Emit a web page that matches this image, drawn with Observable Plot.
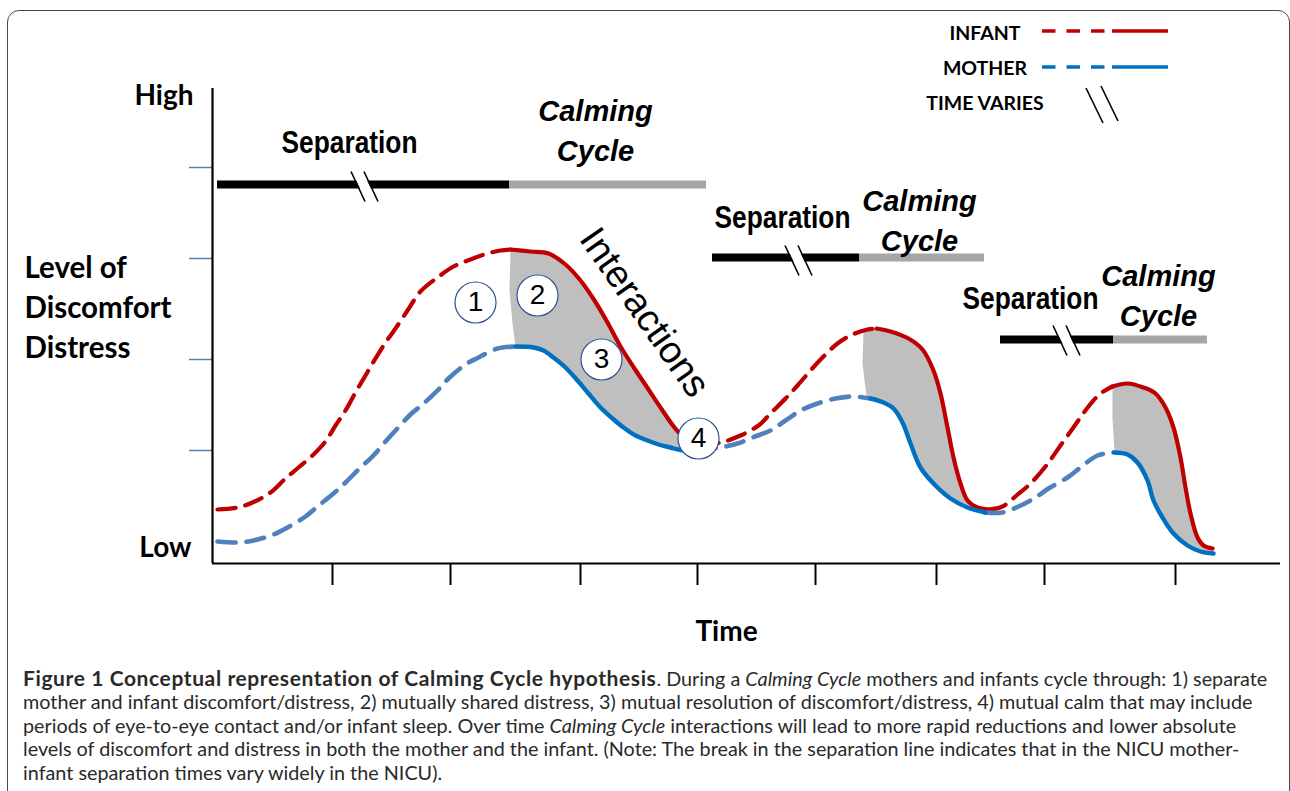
<!DOCTYPE html>
<html><head><meta charset="utf-8">
<script src="https://cdn.jsdelivr.net/npm/d3@7"></script>
<script src="https://cdn.jsdelivr.net/npm/@observablehq/plot@0.6"></script>
<style>
html,body{margin:0;padding:0;background:#fff;}
body{width:1290px;height:791px;overflow:hidden;position:relative;}
#frame{position:absolute;left:7px;top:10px;width:1283px;height:900px;border:1.6px solid #4a4a4a;border-radius:12px;box-sizing:border-box;}
#chart{position:absolute;left:0;top:0;}
#legend{position:absolute;left:0;top:0;}
#caption{position:absolute;left:23px;top:666px;font-family:Lato,sans-serif;font-size:19.8px;line-height:23.4px;color:#2a2a2a;white-space:nowrap;}
#caption b{font-size:21px;letter-spacing:0.6px;}
</style></head><body>
<div id="frame"></div>
<div id="chart"></div>
<svg id="legend" width="1290" height="140"></svg>
<div id="caption">
<div><b>Figure 1 Conceptual representation of Calming Cycle hypothesis</b>. During a <i>Calming Cycle</i> mothers and infants cycle through: 1) separate</div>
<div>mother and infant discomfort/distress, 2) mutually shared distress, 3) mutual resolution of discomfort/distress, 4) mutual calm that may include</div>
<div>periods of eye-to-eye contact and/or infant sleep. Over time <i>Calming Cycle</i> interactions will lead to more rapid reductions and lower absolute</div>
<div>levels of discomfort and distress in both the mother and the infant. (Note: The break in the separation line indicates that in the NICU mother-</div>
<div>infant separation times vary widely in the NICU).</div>
</div>
<script>
// ---- data: [time, level] ----
const infantRise = [
  [[5,54],[25,56],[40,61],[58,71],[73,85],[86,96],[100,108],[113,122],[123,138],[133,153],[143,171],[153,188],[163,205],[173,221],[183,235],[195,253],[208,272],[225,286],[241,297],[258,304],[275,310],[288,313],[298,314]],
  [[488,119],[508,121],[528,128],[546,138],[558,150],[573,165],[585,178],[598,193],[610,206],[625,220],[640,229],[655,234],[664,235]],
  [[776,54],[790,57],[804,68],[818,80],[833,97],[848,118],[863,139],[876,157],[888,170],[900,177]]
];
const infantCalm = [
  [[298,314],[318,312],[336,310],[353,299],[368,283],[382,263],[395,241],[408,217],[422,195],[436,174],[450,153],[462,136],[472,126],[488,119]],
  [[664,235],[678,232],[696,225],[710,214],[721,193],[728,170],[735,136],[741,106],[748,80],[755,63],[765,56],[776,54]],
  [[900,177],[915,180],[931,176],[943,170],[953,156],[961,136],[968,106],[973,76],[978,50],[985,26],[991,18],[1000,15]]
];
const motherRise = [
  [[5,22],[25,21],[41,23],[61,29],[75,36],[93,47],[105,57],[121,70],[133,81],[148,96],[160,107],[173,122],[183,133],[198,149],[210,159],[226,174],[236,185],[253,199],[266,206],[285,215],[303,217]],
  [[485,113],[508,116],[525,120],[540,126],[558,133],[573,143],[588,153],[605,160],[623,165],[641,167],[658,165]],
  [[773,51],[790,51],[806,57],[823,66],[836,75],[855,86],[868,96],[885,108],[901,111]]
];
const motherCalm = [
  [[303,217],[321,216],[331,213],[341,206],[353,196],[365,183],[376,170],[388,156],[400,145],[411,136],[423,128],[435,123],[446,119],[458,116],[471,113],[485,113]],
  [[658,165],[671,161],[681,155],[690,141],[698,120],[708,96],[721,80],[738,65],[755,56],[773,51]],
  [[901,111],[915,109],[925,101],[935,83],[941,63],[950,46],[961,30],[975,18],[988,12],[1001,10]]
];
// left edge of each shaded (shared distress) area, bottom to top
const sharedEdge = [
  [[300,240],[297,273]],
  [[654,167],[650,200],[651,232]],
  [[902,112],[900,145],[900,176]]
];
const xTicks = [120, 238, 368, 485, 603, 724, 832, 963];
const yTicks = [113, 204, 305, 396];
const separationBars = [[5,297,379],[500,647,306],[788,901,224]];   // [start, end, level]
const calmingBars = [[297,494,379],[647,772,306],[901,995,224]];
const breaks = [[152,377],[586,303],[854,223]];
const separationLabels = [[137,421],[570,346],[818,265]];
const calmingLabels = [[383,435],[707,345],[946,270]];
const stages = [["1",263,261],["2",325,268],["3",389,204],["4",486,125]];
const interactionsLabel = [["Interactions",432,251]];
const legendItems = ["INFANT","MOTHER","TIME VARIES"];

// ---- build tables ----
const rows = segs => segs.flatMap((pts, i) => pts.map(([t, level]) => ({seg: i, t, level})));
const fillRows = infantCalm.flatMap((pts, i) =>
  pts.concat(motherCalm[i].slice().reverse(), sharedEdge[i]).map(([t, level]) => ({seg: i, t, level})));

const RED = "#c00000", BLUE = "#0070c0", BLUE_D = "#4f81bd";
const CURVE = "catmull-rom";

const chart = Plot.plot({
  width: 1290, height: 650,
  marginLeft: 212, marginRight: 10, marginTop: 88, marginBottom: 87,
  x: {domain: [0, 1068]},
  y: {domain: [0, 475]},
  style: {fontFamily: "Lato, sans-serif", background: "transparent", overflow: "visible"},
  marks: [
    Plot.line(fillRows, {x: "t", y: "level", z: "seg", fill: "#bfbfbf", stroke: null}),
    Plot.axisX({ticks: xTicks, tickSize: 22, tickFormat: () => "", strokeWidth: 2, stroke: "black", label: null}),
    Plot.axisY({ticks: yTicks, tickSize: 23, tickFormat: () => "", strokeWidth: 1.5, stroke: BLUE_D, label: null}),
    Plot.ruleY([0], {x1: 0, x2: 1068, stroke: "black", strokeWidth: 2.2}),
    Plot.ruleX([0], {y1: 0, y2: 475, stroke: "black", strokeWidth: 2.2}),
    Plot.line(rows(infantRise), {x: "t", y: "level", z: "seg", stroke: RED, strokeWidth: 4.2, strokeDasharray: "18,10", curve: CURVE}),
    Plot.line(rows(infantCalm), {x: "t", y: "level", z: "seg", stroke: RED, strokeWidth: 4.2, curve: CURVE}),
    Plot.line(rows(motherRise), {x: "t", y: "level", z: "seg", stroke: BLUE_D, strokeWidth: 4.6, strokeDasharray: "18,11", curve: CURVE}),
    Plot.line(rows(motherCalm), {x: "t", y: "level", z: "seg", stroke: BLUE, strokeWidth: 4.4, curve: CURVE}),
    Plot.ruleY(separationBars, {y: d => d[2], x1: d => d[0], x2: d => d[1], stroke: "black", strokeWidth: 8}),
    Plot.ruleY(calmingBars, {y: d => d[2], x1: d => d[0], x2: d => d[1], stroke: "#a6a6a6", strokeWidth: 8}),
    Plot.link(breaks, {x1: d => d[0] - 7, y1: d => d[1] + 15, x2: d => d[0] + 7, y2: d => d[1] - 15, stroke: "white", strokeWidth: 10}),
    Plot.link(breaks, {x1: d => d[0] - 13.5, y1: d => d[1] + 15, x2: d => d[0] + 0.5, y2: d => d[1] - 15, stroke: "black", strokeWidth: 1.6}),
    Plot.link(breaks, {x1: d => d[0] - 0.5, y1: d => d[1] + 15, x2: d => d[0] + 13.5, y2: d => d[1] - 15, stroke: "black", strokeWidth: 1.6}),
    Plot.text(separationLabels, {x: d => d[0], y: d => d[1], text: () => "Separation", fontFamily: "'Liberation Sans Narrow', 'Arial Narrow', 'Liberation Sans', sans-serif", fontWeight: "bold", fontSize: 32, fill: "black"}),
    Plot.text(calmingLabels, {x: d => d[0], y: d => d[1], text: () => "Calming\nCycle", lineHeight: 1.38, fontFamily: "'Liberation Sans', Arial, sans-serif", fontWeight: "bold", fontStyle: "italic", fontSize: 29, fill: "black"}),
    Plot.text(interactionsLabel, {x: d => d[1], y: d => d[2], text: d => d[0], rotate: 55, fontFamily: "'Liberation Sans', Arial, sans-serif", fontSize: 38, fill: "black"}),
    Plot.dot(stages, {x: d => d[1], y: d => d[2], r: 20.5, fill: "white", stroke: "#2f528f", strokeWidth: 1.2}),
    Plot.text(stages, {x: d => d[1], y: d => d[2], text: d => d[0], fontFamily: "'Liberation Sans', Arial, sans-serif", fontSize: 28, fill: "black"}),
    Plot.text(["High"], {frameAnchor: "top-left", dx: -19, dy: 8, lineAnchor: "middle", textAnchor: "end", fontSize: 28, fontWeight: "bold", fill: "black"}),
    Plot.text(["Low"], {frameAnchor: "bottom-left", dx: -21, dy: -15, lineAnchor: "middle", textAnchor: "end", fontSize: 28, fontWeight: "bold", fill: "black"}),
    Plot.text(["Level of\nDiscomfort\nDistress"], {frameAnchor: "left", dx: -188, dy: -21, lineAnchor: "middle", textAnchor: "start", lineHeight: 1.36, fontSize: 29.5, fontWeight: "bold", fill: "black"}),
    Plot.text(["Time"], {frameAnchor: "bottom", dx: -20, dy: 69, lineAnchor: "middle", fontSize: 28, fontWeight: "bold", fill: "black"})
  ]
});
document.getElementById("chart").appendChild(chart);

// condense "Separation" to the narrow width of the original lettering
d3.select(chart).selectAll("text").filter(function () { return this.textContent === "Separation"; })
  .attr("textLength", 136).attr("lengthAdjust", "spacingAndGlyphs");

// ---- legend (key) ----
const lg = d3.select("#legend");
const lx = 985, ly = [33, 68, 103];
lg.selectAll("text").data(legendItems).join("text")
  .attr("x", lx).attr("y", (d, i) => ly[i]).attr("dy", "0.35em")
  .attr("text-anchor", "middle").attr("font-family", "Lato, sans-serif")
  .attr("font-weight", "bold").attr("font-size", 19.5).text(d => d);
[[RED, 31], [BLUE, 67]].forEach(([c, y]) => {
  lg.append("line").attr("x1", 1042).attr("x2", 1105).attr("y1", y).attr("y2", y)
    .attr("stroke", c).attr("stroke-width", 3.5).attr("stroke-dasharray", "13.5,11");
  lg.append("line").attr("x1", 1112).attr("x2", 1168).attr("y1", y).attr("y2", y)
    .attr("stroke", c).attr("stroke-width", 3.5);
});
[[1086, 88, 1103, 123], [1101, 86, 1118, 121]].forEach(([a, b, c, d]) =>
  lg.append("line").attr("x1", a).attr("y1", b).attr("x2", c).attr("y2", d)
    .attr("stroke", "black").attr("stroke-width", 1.6));
</script>
</body></html>
